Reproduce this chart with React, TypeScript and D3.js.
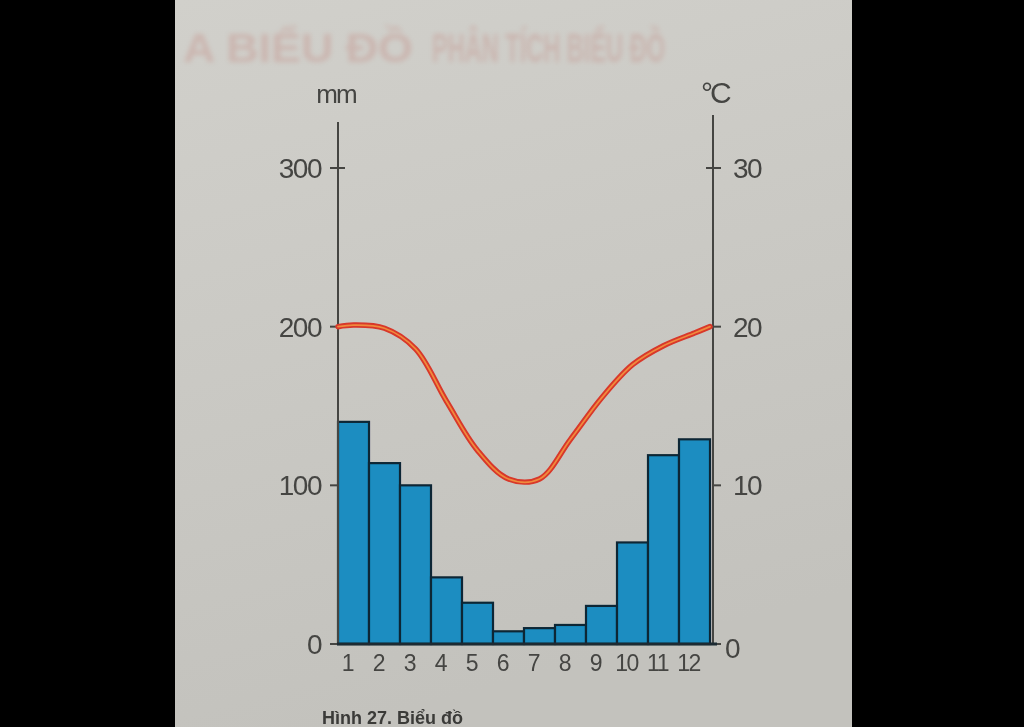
import React from "react";
import * as d3 from "d3";

// Monthly climate data: rainfall (mm) as bars, temperature (°C) as a line
const months = [1, 2, 3, 4, 5, 6, 7, 8, 9, 10, 11, 12];
const rainfall = [140, 114, 100, 42, 26, 8, 10, 12, 24, 64, 119, 129];

// Temperature curve samples: month positions (0.5 and 12.5 are the year's edges)
const tempMonths = [0.5, 1, 2, 3, 4, 5, 6, 7, 8, 9, 10, 11, 12, 12.5];
const temperature = [20, 20.1, 19.9, 18.6, 15.3, 12.2, 10.4, 10.4, 12.9, 15.5, 17.6, 18.8, 19.6, 20];

const rainTicks = [0, 100, 200, 300];
const tempTicks = [0, 10, 20, 30];

const W = 1024;
const H = 727;

export default function App() {
  const x = d3.scaleLinear().domain([0.5, 12.5]).range([338, 710]);
  const yRain = d3.scaleLinear().domain([0, 300]).range([644, 168]);
  const yTemp = d3.scaleLinear().domain([0, 30]).range([644, 168]);

  const leftX = x(0.5);
  const rightX = x(12.5) + 3;
  const base = yRain(0);

  const line = d3
    .line<number>()
    .x((_, i) => x(tempMonths[i]))
    .y((d) => yTemp(d))
    .curve(d3.curveCatmullRom.alpha(0.5));
  const tempPath = line(temperature) || "";

  const font = "'Liberation Sans', Arial, sans-serif";
  const ink = "#454543";

  return (
    <svg
      width={W}
      height={H}
      viewBox={`0 0 ${W} ${H}`}
      style={{ position: "absolute", left: 0, top: 0, display: "block" }}
    >
      <defs>
        <linearGradient id="paper" x1="0" y1="0" x2="0.25" y2="1">
          <stop offset="0" stopColor="#d1d0cb" />
          <stop offset="0.5" stopColor="#cac9c4" />
          <stop offset="1" stopColor="#c3c2bd" />
        </linearGradient>
        <filter id="soft" x="-5%" y="-50%" width="110%" height="200%">
          <feGaussianBlur stdDeviation="2.6" />
        </filter>
        <filter id="ink" x="-5%" y="-5%" width="110%" height="110%">
          <feGaussianBlur stdDeviation="0.5" />
        </filter>
      </defs>

      <rect x={0} y={0} width={W} height={H} fill="#000" />
      <rect x={175} y={0} width={677} height={H} fill="url(#paper)" />

      {/* faded heading at the top of the page */}
      <g filter="url(#soft)" fill="#c4928a" opacity={0.4} fontFamily={font} fontWeight="bold" fontSize={40}>
        <text x={183} y={62} textLength={230} lengthAdjust="spacingAndGlyphs">A BIỂU ĐỒ</text>
        <text x={432} y={62} textLength={233} lengthAdjust="spacingAndGlyphs">PHÂN TÍCH BIỂU ĐỒ</text>
      </g>

      <g filter="url(#ink)">
        {/* rainfall bars */}
        {rainfall.map((v, i) => (
          <rect
            key={months[i]}
            x={x(months[i] - 0.5)}
            y={yRain(v)}
            width={x(months[i] + 0.5) - x(months[i] - 0.5)}
            height={base - yRain(v)}
            fill="#1b8dc1"
            stroke="#0d2736"
            strokeWidth={2.2}
          />
        ))}

        {/* left axis (mm) */}
        <line x1={leftX} x2={leftX} y1={122} y2={base} stroke={ink} strokeWidth={2} />
        {rainTicks.map((t) => (
          <g key={t}>
            <line
              x1={leftX - 8}
              x2={t === 300 ? leftX + 7 : leftX}
              y1={yRain(t)}
              y2={yRain(t)}
              stroke={ink}
              strokeWidth={2}
            />
            <text
              x={leftX - 17}
              y={yRain(t)}
              dy="0.36em"
              textAnchor="end"
              fontFamily={font}
              fontSize={28}
              letterSpacing={-1.5}
              fill={ink}
            >
              {t}
            </text>
          </g>
        ))}
        <text x={leftX - 2} y={103} textAnchor="middle" fontFamily={font} fontSize={26} letterSpacing={-2} fill={ink}>
          mm
        </text>

        {/* right axis (°C) */}
        <line x1={rightX} x2={rightX} y1={115} y2={base} stroke={ink} strokeWidth={2} />
        {tempTicks.map((t) => (
          <g key={t}>
            <line
              x1={t === 30 ? rightX - 7 : rightX}
              x2={rightX + 8}
              y1={yTemp(t)}
              y2={yTemp(t)}
              stroke={ink}
              strokeWidth={2}
            />
            <text
              x={t === 0 ? rightX + 12 : rightX + 20}
              y={yTemp(t)}
              dy={t === 0 ? "0.5em" : "0.36em"}
              fontFamily={font}
              fontSize={28}
              letterSpacing={-1.5}
              fill={ink}
            >
              {t}
            </text>
          </g>
        ))}
        <text x={rightX - 12} y={103} fontFamily={font} fontSize={30} letterSpacing={-3} fill={ink}>
          °C
        </text>

        {/* baseline */}
        <line x1={leftX - 1} x2={rightX + 4} y1={base} y2={base} stroke="#1b2a33" strokeWidth={3} />

        {/* month labels */}
        {months.map((m) => (
          <text
            key={m}
            x={x(m) - 6}
            y={671}
            textAnchor="middle"
            fontFamily={font}
            fontSize={23}
            letterSpacing={-1.5}
            fill={ink}
          >
            {m}
          </text>
        ))}

        {/* temperature curve */}
        <path d={tempPath} fill="none" stroke="#d8372a" strokeWidth={5.5} strokeLinecap="round" />
        <path d={tempPath} fill="none" stroke="#f08a3c" strokeWidth={1.8} strokeLinecap="round" />
      </g>

      {/* figure caption at the foot of the page */}
      <text x={322} y={724} fontFamily={font} fontSize={18} fontWeight="bold" fill="#3a3a38" filter="url(#ink)">
        Hình 27. Biểu đồ
      </text>
    </svg>
  );
}
